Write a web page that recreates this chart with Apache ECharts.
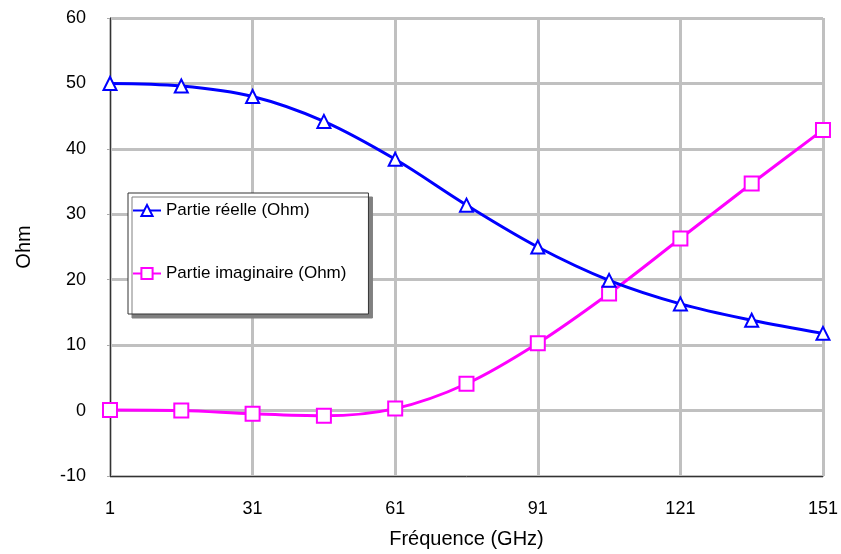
<!DOCTYPE html>
<html>
<head>
<meta charset="utf-8">
<script src="https://cdn.jsdelivr.net/npm/echarts@6/dist/echarts.min.js"></script>
<style>
  html, body { margin: 0; padding: 0; background: #fff; overflow: hidden; }
  #chart { width: 841px; height: 554px; }
</style>
</head>
<body>
<div id="chart"></div>
<script>
// fréquences (GHz)
const frequences = ['1', '16', '31', '46', '61', '76', '91', '106', '121', '136', '151'];
// partie réelle (Ohm)
const partieReelle = [50.0, 49.6, 48.0, 44.2, 38.4, 31.4, 25.0, 19.9, 16.3, 13.8, 11.8];
// partie imaginaire (Ohm)
const partieImaginaire = [0.1, 0.0, -0.5, -0.8, 0.3, 4.1, 10.3, 17.9, 26.3, 34.7, 42.9];

const fontFamily = '"Liberation Sans", Arial, sans-serif';

const chart = echarts.init(document.getElementById('chart'));
const option = {
  backgroundColor: '#ffffff',
  animation: false,
  grid: {
    left: 110,
    right: 16,
    top: 18,
    height: 462,
    show: true,
    borderColor: '#555',
    borderWidth: 1
  },
  legend: {
    orient: 'vertical',
    left: 128,
    top: 193,
    padding: [9, 22, 32, 4],
    itemGap: 46,
    itemWidth: 28,
    itemHeight: 14,
    backgroundColor: '#ffffff',
    borderColor: '#333',
    borderWidth: 1,
    shadowColor: '#808080',
    shadowOffsetX: 4,
    shadowOffsetY: 4,
    shadowBlur: 0.01,
    textStyle: {
      color: '#000',
      fontFamily: fontFamily,
      fontSize: 17
    },
    data: ['Partie réelle (Ohm)', 'Partie imaginaire (Ohm)']
  },
  xAxis: {
    type: 'category',
    data: frequences,
    boundaryGap: false,
    name: 'Fréquence (GHz)',
    nameLocation: 'middle',
    nameGap: 53,
    nameTextStyle: { color: '#000', fontFamily: fontFamily, fontSize: 20 },
    axisLine: { onZero: false, lineStyle: { color: '#333', width: 1 } },
    axisTick: { show: false },
    axisLabel: {
      interval: 1,
      margin: 24,
      color: '#000',
      fontFamily: fontFamily,
      fontSize: 18
    },
    splitLine: {
      show: true,
      interval: 1,
      lineStyle: { color: '#c0c0c0', width: 3 }
    }
  },
  yAxis: {
    type: 'value',
    min: -10,
    max: 60,
    interval: 10,
    name: 'Ohm',
    nameLocation: 'middle',
    nameGap: 76,
    nameTextStyle: { color: '#000', fontFamily: fontFamily, fontSize: 20 },
    axisLine: { show: true, lineStyle: { color: '#333', width: 1 } },
    axisTick: { show: true, length: 3, lineStyle: { color: '#aaa' } },
    axisLabel: {
      margin: 24,
      color: '#000',
      fontFamily: fontFamily,
      fontSize: 18
    },
    splitLine: {
      show: true,
      lineStyle: { color: '#c0c0c0', width: 3 }
    }
  },
  series: [
    {
      name: 'Partie réelle (Ohm)',
      type: 'line',
      data: partieReelle,
      smooth: 0.35,
      symbol: 'emptyTriangle',
      symbolSize: [13, 13],
      lineStyle: { color: '#0000ff', width: 3 },
      itemStyle: { color: '#0000ff', borderColor: '#0000ff', borderWidth: 3 },
      z: 3
    },
    {
      name: 'Partie imaginaire (Ohm)',
      type: 'line',
      data: partieImaginaire,
      smooth: 0.35,
      symbol: 'emptyRect',
      symbolSize: 14,
      lineStyle: { color: '#ff00ff', width: 3 },
      itemStyle: { color: '#ff00ff', borderColor: '#ff00ff', borderWidth: 3 },
      z: 2
    }
  ]
};
chart.setOption(option);
</script>
</body>
</html>
